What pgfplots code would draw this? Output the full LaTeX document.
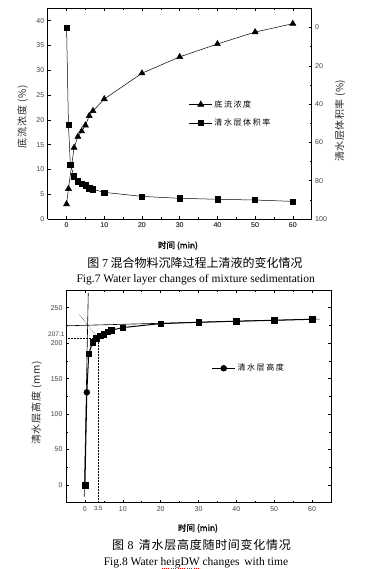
\documentclass[border=0pt]{standalone}
\usepackage{pgfplots}
\pgfplotsset{compat=1.18}
\usepackage{fontspec}
\setmainfont{Liberation Sans}
\newfontfamily\cjk{Noto Sans CJK SC}
\newfontfamily\serif{Liberation Serif}
\newsavebox\hb
\pgfplotsset{mystyle/.style={
  scale only axis, anchor=south west,
  xmin=-5, xmax=65,
  tick align=inside, major tick length=3pt, minor tick length=1.6pt,
  tick style={black, line width=0.5pt},
  axis line style={line width=0.6pt},
  ticklabel style={font=\fontsize{7}{8}\selectfont, text=black!75},
  /pgf/number format/assume math mode=true,
  xtick={0,10,...,60}, minor x tick num=1,
}}
\begin{document}
\begin{tikzpicture}
\path[use as bounding box] (0pt,0pt) rectangle (369pt,569pt);

% ---------------- Fig 7 ----------------
\begin{axis}[mystyle, at={(47.7pt,350pt)}, width=264pt, height=210.7pt,
  ymin=0, ymax=42.5, ytick={0,5,...,40}, axis y line*=left,
  legend style={at={(0.535,0.5)}, anchor=west, draw=none, fill=none,
    font=\cjk\fontsize{8}{9}\selectfont\addfontfeature{LetterSpace=20},
    inner sep=0pt, row sep=6pt, cells={anchor=west}},
  legend image code/.code={\draw[mark repeat=2,mark phase=2,#1] plot coordinates {(0cm,0cm) (0.4cm,0cm) (0.8cm,0cm)};}]
\addplot[black, line width=0.5pt, mark=triangle*, mark size=3.5pt] coordinates {
(0,3.0)(0.5,6.1)(2,14.4)(3,16.6)(4,17.7)(5,18.9)(6,20.8)(7,21.8)(10,24.2)(20,29.4)(30,32.7)(40,35.3)(50,37.7)(60,39.4)};
\addlegendentry{底流浓度}
\addlegendimage{black, line width=0.5pt, mark=square*, mark size=2.6pt}
\addlegendentry{清水层体积率}
\draw[line width=0.6pt] (rel axis cs:0,1) -- (rel axis cs:1,1);
\end{axis}
\begin{axis}[mystyle, at={(47.7pt,350pt)}, width=264pt, height=210.7pt,
  ymin=-10, ymax=100, y dir=reverse, axis y line*=right, axis x line*=bottom,
  ytick={0,20,...,100}, minor y tick num=1]
\addplot[black, line width=0.5pt, mark=square*, mark size=2.6pt] coordinates {
(0,0)(0.5,50.6)(1,71.5)(2,77.7)(3,80.3)(4,81.4)(5,82.4)(6,84.0)(7,84.5)(10,86.1)(20,88.2)(30,89.2)(40,89.7)(50,90.1)(60,90.8)};
\end{axis}

\node[rotate=90, font=\cjk\fontsize{10}{11}\selectfont\addfontfeature{LetterSpace=8}, text=black!85] at (22.7pt,452.3pt) {底流浓度 (\%)};
\node[rotate=90, font=\cjk\fontsize{10}{11}\selectfont\addfontfeature{LetterSpace=5}, text=black!85] at (340pt,448.2pt) {清水层体积率 (\%)};
\node[font=\cjk\fontsize{8.5}{9}\selectfont\addfontfeature{FakeBold=1.5}] at (178pt,323.3pt) {时间 (min)};
\node[font=\cjk\fontsize{12}{13}\selectfont] at (195pt,305.7pt) {图 {\serif 7} 混合物料沉降过程上清液的变化情况};
\node[font=\serif\fontsize{11.5}{12}\selectfont] at (195.7pt,289.7pt) {Fig.7 Water layer changes of mixture sedimentation};

% ---------------- Fig 8 ----------------
\begin{axis}[mystyle, at={(66pt,66.3pt)}, width=265pt, height=212.7pt,
  ymin=-25, ymax=275, ytick={0,50,...,250}, minor y tick num=1,
  extra x ticks={3.5}, extra x tick labels={3.5},
  extra x tick style={major tick length=0pt, tick label style={font=\fontsize{6}{7}\selectfont}},
  extra y ticks={207.1}, extra y tick labels={207.1},
  extra y tick style={major tick length=0pt, tick label style={yshift=4pt, xshift=2pt, font=\fontsize{6.5}{7}\selectfont}},
  legend style={at={(0.55,0.632)}, anchor=west, draw=none, fill=none,
    font=\cjk\fontsize{8}{9}\selectfont\addfontfeature{LetterSpace=20},
    inner sep=0pt, cells={anchor=west}},
  legend image code/.code={\draw[mark repeat=2,mark phase=2,#1] plot coordinates {(0cm,0cm) (0.4cm,0cm) (0.8cm,0cm)};}]
% tangent / construction lines
\addplot[black, line width=0.6pt, forget plot] coordinates {(0.88,270.6)(-0.18,-16.4)};
\addplot[black, line width=0.6pt, forget plot] coordinates {(-5,224.5)(62,234)};
\addplot[black, line width=0.5pt, densely dotted, forget plot] coordinates {(-1.4,240)(3.5,207.1)};
\addplot[black, line width=0.5pt, densely dotted, forget plot] coordinates {(-5,207.1)(3.5,207.1)(3.5,-25)};
% data
\addplot[black, line width=1pt, forget plot] coordinates {
(0,0)(0.5,130.7)(1,185)(2,201)(3,207.3)(4,210.3)(5,213)(6,216)(7,218.3)(10,222)(20,227.6)(30,229.5)(40,231)(50,232.3)(60,233.7)};
\addplot[black, only marks, mark=square*, mark size=2.8pt, forget plot] coordinates {
(0,0)(1,185)(2,201)(3,207.3)(4,210.3)(5,213)(6,216)(7,218.3)(10,222)(20,227.6)(30,229.5)(40,231)(50,232.3)(60,233.7)};
\addplot[black, only marks, mark=*, mark size=3pt, forget plot] coordinates {(0.5,130.7)};
\addlegendimage{black, line width=0.8pt, mark=*, mark size=2.8pt}
\addlegendentry{清水层高度}
\end{axis}

\node[rotate=90, font=\cjk\fontsize{10}{11}\selectfont\addfontfeature{LetterSpace=8}, text=black!85] at (36.7pt,166pt) {清水层高度 (mm)};
\node[font=\cjk\fontsize{8.5}{9}\selectfont\addfontfeature{FakeBold=1.5}] at (198pt,40.7pt) {时间 (min)};
\node[font=\cjk\fontsize{12}{13}\selectfont\addfontfeature{LetterSpace=6}] at (201.5pt,24pt) {图 {\serif 8}\, 清水层高度随时间变化情况};
\node[font=\serif\fontsize{11.5}{12}\selectfont] at (196pt,6.5pt) {Fig.8 Water \sbox\hb{heigDW}\rlap{\color{red}\smash{\raisebox{-3pt}{\hbox to\wd\hb{\xleaders\hbox to 2.2pt{\hss\rule{0.7pt}{0.7pt}\hss}\hfil}}}}\usebox\hb{} changes\, with time};
\end{tikzpicture}
\end{document}
